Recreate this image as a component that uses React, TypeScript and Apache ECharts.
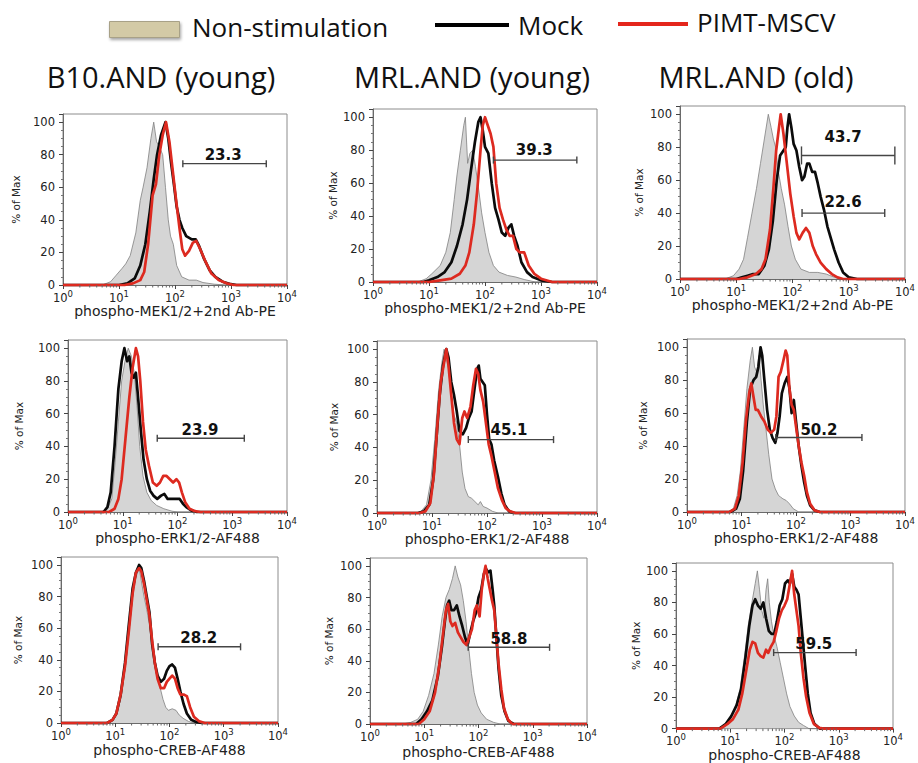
import React, { useEffect, useRef } from "react";
import * as echarts from "echarts";

// ---------- text ----------
const columnTitles = ["B10.AND (young)", "MRL.AND (young)", "MRL.AND (old)"];
const rowMarkers = ["phospho-MEK1/2+2nd Ab-PE", "phospho-ERK1/2-AF488", "phospho-CREB-AF488"];
const legendNames = ["Non-stimulation", "Mock", "PIMT-MSCV"];
const yAxisName = "% of Max";

// ---------- data: [log10 fluorescence, % of max] ----------
const mekB10Non = [[0,0],[0.7,0],[0.85,2],[0.95,6],[1.05,10],[1.12,13],[1.2,18],[1.3,32],[1.38,52],[1.43,60],[1.5,72],[1.57,90],[1.62,100],[1.67,88],[1.72,85],[1.78,80],[1.83,60],[1.88,40],[1.92,30],[1.97,25],[2.03,12],[2.12,5],[2.25,3],[2.38,3],[2.5,1.5],[2.7,0.5],[2.9,0],[4,0]];
const mekB10Mock = [[0,0],[1.0,0],[1.15,1],[1.28,4],[1.38,12],[1.47,25],[1.55,45],[1.62,65],[1.68,80],[1.75,92],[1.83,100],[1.88,90],[1.93,75],[1.98,62],[2.03,48],[2.08,40],[2.13,35],[2.2,30],[2.3,28],[2.37,28],[2.43,24],[2.52,16],[2.62,9],[2.72,5],[2.85,2],[3.0,0.5],[3.1,0],[4,0]];
const mekB10Pimt = [[0,0],[1.1,0],[1.25,1],[1.38,3],[1.45,8],[1.52,25],[1.6,55],[1.66,62],[1.72,80],[1.78,92],[1.84,100],[1.9,88],[1.96,70],[2.02,52],[2.08,35],[2.13,22],[2.18,18],[2.25,21],[2.32,26],[2.38,27],[2.45,22],[2.55,14],[2.65,7],[2.78,3],[2.92,1],[3.05,0],[4,0]];

const mekMrlYNon = [[0,0],[0.8,0],[0.95,2],[1.05,5],[1.2,10],[1.3,18],[1.38,30],[1.45,50],[1.5,65],[1.56,80],[1.62,95],[1.65,100],[1.69,72],[1.73,78],[1.78,80],[1.83,70],[1.88,58],[1.94,42],[2.0,30],[2.07,18],[2.15,10],[2.25,6],[2.4,4],[2.55,3],[2.7,1.5],[2.9,0],[4,0]];
const mekMrlYMock = [[0,0],[0.9,0],[1.0,1],[1.15,3],[1.28,6],[1.4,12],[1.5,22],[1.6,35],[1.68,50],[1.75,68],[1.82,85],[1.88,97],[1.92,100],[1.96,92],[2.0,82],[2.06,78],[2.12,60],[2.18,45],[2.24,38],[2.3,30],[2.36,28],[2.42,33],[2.47,35],[2.52,28],[2.58,22],[2.65,12],[2.75,6],[2.85,3],[3.0,1],[3.2,0],[4,0]];
const mekMrlYPimt = [[0,0],[1.0,0],[1.2,1],[1.4,2],[1.55,5],[1.65,10],[1.72,18],[1.8,35],[1.86,55],[1.92,80],[1.96,95],[2.0,100],[2.05,95],[2.1,90],[2.15,82],[2.2,60],[2.26,45],[2.32,38],[2.38,32],[2.44,28],[2.5,28],[2.56,20],[2.62,18],[2.7,18],[2.78,10],[2.88,5],[3.0,2],[3.2,0],[4,0]];

const mekMrlONon = [[0,0],[0.8,0],[0.95,2],[1.05,6],[1.13,12],[1.2,25],[1.28,40],[1.36,55],[1.43,70],[1.5,85],[1.57,100],[1.62,92],[1.66,85],[1.7,80],[1.75,65],[1.8,55],[1.86,45],[1.92,32],[1.98,20],[2.05,12],[2.15,6],[2.3,4],[2.45,4],[2.6,3],[2.75,1],[2.9,0],[4,0]];
const mekMrlOMock = [[0,0],[1.0,0],[1.1,1],[1.2,2],[1.3,3],[1.4,3],[1.5,8],[1.58,18],[1.65,35],[1.72,60],[1.78,75],[1.84,78],[1.88,80],[1.91,92],[1.94,100],[1.98,92],[2.02,82],[2.07,78],[2.12,68],[2.17,60],[2.21,62],[2.26,70],[2.3,70],[2.35,65],[2.4,65],[2.45,58],[2.5,50],[2.56,42],[2.62,32],[2.68,25],[2.74,18],[2.82,10],[2.9,4],[3.0,1],[3.15,0],[4,0]];
const mekMrlOPimt = [[0,0],[1.05,0],[1.2,1],[1.35,3],[1.45,6],[1.52,12],[1.6,30],[1.66,55],[1.71,78],[1.76,92],[1.79,100],[1.84,88],[1.9,70],[1.96,52],[2.02,38],[2.07,28],[2.12,24],[2.18,28],[2.24,31],[2.3,28],[2.36,20],[2.42,15],[2.5,10],[2.6,6],[2.7,3],[2.8,1],[2.9,0],[4,0]];

const erkB10Non = [[0,0],[0.6,0],[0.72,2],[0.8,8],[0.86,30],[0.92,55],[0.98,80],[1.04,92],[1.1,100],[1.16,95],[1.21,85],[1.26,65],[1.31,40],[1.37,22],[1.44,12],[1.52,7],[1.62,4],[1.75,2],[1.9,0.5],[2.0,0],[4,0]];
const erkB10Mock = [[0,0],[0.65,0],[0.72,3],[0.78,12],[0.85,40],[0.92,75],[0.98,92],[1.03,100],[1.08,92],[1.12,95],[1.16,85],[1.2,82],[1.24,85],[1.28,70],[1.33,50],[1.38,32],[1.44,20],[1.5,13],[1.56,10],[1.63,8],[1.7,10],[1.76,11],[1.82,8],[1.9,8],[1.98,8],[2.04,8],[2.1,5],[2.16,3],[2.25,1],[2.35,0],[4,0]];
const erkB10Pimt = [[0,0],[0.75,0],[0.85,2],[0.92,8],[0.98,20],[1.05,45],[1.12,70],[1.18,88],[1.24,100],[1.28,95],[1.32,80],[1.37,55],[1.42,38],[1.48,28],[1.55,18],[1.62,16],[1.68,18],[1.74,22],[1.8,22],[1.86,20],[1.92,18],[1.98,20],[2.03,18],[2.08,12],[2.14,6],[2.22,2],[2.32,0.5],[2.42,0],[4,0]];

const erkMrlYNon = [[0,0],[0.7,0],[0.8,1],[0.9,5],[0.98,20],[1.05,45],[1.12,75],[1.18,92],[1.22,100],[1.26,95],[1.3,88],[1.35,72],[1.4,60],[1.45,55],[1.5,42],[1.55,25],[1.6,15],[1.66,10],[1.72,9],[1.78,7],[1.84,5],[1.88,7],[1.93,4],[2.0,3],[2.1,1],[2.2,0],[4,0]];
const erkMrlYMock = [[0,0],[0.75,0],[0.85,1],[0.95,5],[1.02,20],[1.08,45],[1.14,72],[1.2,90],[1.26,100],[1.3,95],[1.35,80],[1.4,72],[1.45,62],[1.5,50],[1.56,48],[1.62,52],[1.67,58],[1.72,62],[1.77,75],[1.82,88],[1.85,90],[1.88,82],[1.92,80],[1.96,78],[2.0,60],[2.04,45],[2.08,42],[2.13,32],[2.2,22],[2.26,12],[2.32,5],[2.4,1],[2.5,0],[4,0]];
const erkMrlYPimt = [[0,0],[0.78,0],[0.88,1],[0.97,6],[1.04,25],[1.1,55],[1.16,80],[1.22,92],[1.26,100],[1.3,90],[1.35,72],[1.4,55],[1.45,45],[1.5,42],[1.55,58],[1.59,62],[1.64,58],[1.7,65],[1.75,78],[1.8,88],[1.84,85],[1.88,75],[1.93,68],[1.98,55],[2.03,42],[2.08,35],[2.14,25],[2.2,15],[2.27,8],[2.34,3],[2.42,1],[2.52,0],[4,0]];

const erkMrlONon = [[0,0],[0.75,0],[0.85,2],[0.92,10],[0.98,25],[1.04,50],[1.1,75],[1.16,92],[1.2,100],[1.24,88],[1.28,85],[1.32,95],[1.36,80],[1.4,65],[1.45,50],[1.5,35],[1.56,20],[1.62,14],[1.68,10],[1.72,9],[1.76,8],[1.82,7],[1.88,5],[1.95,2],[2.05,0],[4,0]];
const erkMrlOMock = [[0,0],[0.8,0],[0.9,2],[0.97,8],[1.03,25],[1.1,55],[1.16,75],[1.22,80],[1.27,82],[1.31,88],[1.35,100],[1.38,95],[1.42,80],[1.47,62],[1.52,50],[1.57,45],[1.62,42],[1.66,48],[1.7,58],[1.74,72],[1.79,78],[1.84,82],[1.88,75],[1.92,60],[1.96,68],[2.0,55],[2.05,40],[2.1,28],[2.15,18],[2.2,10],[2.26,4],[2.34,1],[2.44,0],[4,0]];
const erkMrlOPimt = [[0,0],[0.78,0],[0.88,2],[0.95,10],[1.02,30],[1.08,55],[1.14,72],[1.18,78],[1.22,70],[1.26,62],[1.3,62],[1.36,58],[1.42,55],[1.48,50],[1.54,48],[1.6,50],[1.64,58],[1.68,82],[1.72,85],[1.77,92],[1.81,98],[1.84,95],[1.88,75],[1.92,65],[1.96,62],[2.0,52],[2.05,40],[2.1,30],[2.15,22],[2.2,12],[2.26,5],[2.34,1],[2.44,0],[4,0]];

const crebB10Non = [[0,0],[0.85,0],[0.95,2],[1.02,5],[1.1,15],[1.18,35],[1.25,58],[1.32,80],[1.38,92],[1.44,98],[1.48,90],[1.53,80],[1.58,72],[1.63,62],[1.68,50],[1.73,42],[1.78,28],[1.83,22],[1.88,15],[1.93,10],[1.98,8],[2.05,9],[2.12,8],[2.18,5],[2.25,3],[2.35,1],[2.45,0],[4,0]];
const crebB10Mock = [[0,0],[0.85,0],[0.95,2],[1.02,6],[1.1,18],[1.18,38],[1.25,62],[1.32,85],[1.38,95],[1.44,100],[1.48,98],[1.53,90],[1.58,80],[1.63,70],[1.68,50],[1.73,38],[1.78,30],[1.84,26],[1.9,28],[1.95,33],[2.0,36],[2.05,37],[2.1,35],[2.15,28],[2.2,20],[2.26,12],[2.32,6],[2.4,2],[2.5,0.5],[2.6,0],[4,0]];
const crebB10Pimt = [[0,0],[0.85,0],[0.95,2],[1.02,6],[1.1,18],[1.18,36],[1.25,58],[1.32,82],[1.38,95],[1.44,98],[1.48,96],[1.53,88],[1.58,78],[1.63,68],[1.68,52],[1.73,38],[1.78,28],[1.84,22],[1.9,22],[1.95,26],[2.0,28],[2.05,30],[2.1,28],[2.15,22],[2.2,18],[2.26,18],[2.32,17],[2.38,10],[2.45,4],[2.55,1],[2.65,0],[4,0]];

const crebMrlYNon = [[0,0],[0.6,0],[0.75,1],[0.88,3],[0.98,8],[1.08,18],[1.18,32],[1.26,50],[1.33,68],[1.4,80],[1.46,85],[1.52,92],[1.57,100],[1.62,93],[1.67,88],[1.72,78],[1.77,65],[1.82,48],[1.87,32],[1.92,20],[1.98,12],[2.05,7],[2.15,3],[2.28,1],[2.4,0],[4,0]];
const crebMrlYMock = [[0,0],[0.85,0],[0.95,3],[1.05,8],[1.15,15],[1.25,30],[1.33,50],[1.38,65],[1.42,75],[1.46,78],[1.5,72],[1.55,72],[1.6,75],[1.65,68],[1.7,62],[1.75,55],[1.8,50],[1.85,58],[1.9,65],[1.95,70],[2.0,80],[2.05,85],[2.1,95],[2.14,98],[2.18,96],[2.22,97],[2.26,85],[2.29,75],[2.33,55],[2.37,35],[2.42,18],[2.48,8],[2.55,2],[2.65,0],[4,0]];
const crebMrlYPimt = [[0,0],[0.9,0],[1.0,3],[1.1,8],[1.2,20],[1.28,38],[1.35,58],[1.4,72],[1.44,76],[1.48,65],[1.52,62],[1.57,64],[1.62,58],[1.67,55],[1.72,52],[1.78,50],[1.83,55],[1.88,60],[1.93,72],[1.97,75],[2.02,68],[2.06,85],[2.1,95],[2.13,100],[2.17,92],[2.21,85],[2.25,78],[2.29,72],[2.33,55],[2.37,38],[2.42,22],[2.47,10],[2.54,3],[2.62,0],[4,0]];

const crebMrlONon = [[0,0],[0.75,0],[0.88,2],[0.98,5],[1.08,12],[1.18,25],[1.26,45],[1.33,65],[1.4,80],[1.46,92],[1.5,100],[1.54,88],[1.58,75],[1.62,70],[1.66,88],[1.69,95],[1.72,80],[1.76,68],[1.8,60],[1.86,52],[1.92,42],[1.98,32],[2.04,22],[2.1,14],[2.18,8],[2.26,4],[2.35,2],[2.45,0],[4,0]];
const crebMrlOMock = [[0,0],[0.8,0],[0.92,3],[1.02,8],[1.12,15],[1.2,25],[1.28,45],[1.35,65],[1.41,78],[1.46,82],[1.51,78],[1.56,76],[1.61,80],[1.66,70],[1.71,62],[1.76,60],[1.81,60],[1.86,68],[1.91,78],[1.96,82],[2.01,92],[2.06,94],[2.1,92],[2.14,98],[2.18,90],[2.22,88],[2.26,85],[2.3,70],[2.34,55],[2.38,40],[2.43,22],[2.48,10],[2.55,3],[2.65,0],[4,0]];
const crebMrlOPimt = [[0,0],[0.82,0],[0.95,3],[1.05,6],[1.15,12],[1.22,22],[1.3,38],[1.36,50],[1.41,55],[1.46,54],[1.51,48],[1.56,46],[1.61,45],[1.66,50],[1.7,48],[1.75,52],[1.8,55],[1.85,62],[1.9,70],[1.95,75],[2.0,78],[2.05,82],[2.1,92],[2.14,100],[2.18,85],[2.22,75],[2.26,65],[2.3,48],[2.35,32],[2.4,20],[2.46,10],[2.54,3],[2.64,0.5],[2.72,0],[4,0]];

// gates: from/to (log10), y (%), label and label centre (log10, %)
const mekB10Gates = [{ from: 2.14, to: 3.63, y: 74.5, label: "23.3", lx: 2.86, ly: 80 }];
const mekMrlYGates = [{ from: 2.15, to: 3.64, y: 74, label: "39.3", lx: 2.88, ly: 80 }];
const mekMrlOGates = [
  { from: 2.16, to: 3.82, y: 75, label: "43.7", lx: 2.9, ly: 86 },
  { from: 2.17, to: 3.64, y: 40, label: "22.6", lx: 2.9, ly: 47 },
];
const erkB10Gates = [{ from: 1.63, to: 3.22, y: 45, label: "23.9", lx: 2.41, ly: 50 }];
const erkMrlYGates = [{ from: 1.66, to: 3.21, y: 44.8, label: "45.1", lx: 2.4, ly: 50.5 }];
const erkMrlOGates = [{ from: 1.63, to: 3.21, y: 45.2, label: "50.2", lx: 2.42, ly: 50 }];
const crebB10Gates = [{ from: 1.79, to: 3.31, y: 48.2, label: "28.2", lx: 2.54, ly: 53.5 }];
const crebMrlYGates = [{ from: 1.81, to: 3.31, y: 48.5, label: "58.8", lx: 2.56, ly: 53.6 }];
const crebMrlOGates = [{ from: 1.8, to: 3.32, y: 48.2, label: "59.5", lx: 2.54, ly: 53.5 }];

const panelData = [
  { non: mekB10Non, mock: mekB10Mock, pimt: mekB10Pimt, gates: mekB10Gates, row: 0 },
  { non: mekMrlYNon, mock: mekMrlYMock, pimt: mekMrlYPimt, gates: mekMrlYGates, row: 0 },
  { non: mekMrlONon, mock: mekMrlOMock, pimt: mekMrlOPimt, gates: mekMrlOGates, row: 0 },
  { non: erkB10Non, mock: erkB10Mock, pimt: erkB10Pimt, gates: erkB10Gates, row: 1 },
  { non: erkMrlYNon, mock: erkMrlYMock, pimt: erkMrlYPimt, gates: erkMrlYGates, row: 1 },
  { non: erkMrlONon, mock: erkMrlOMock, pimt: erkMrlOPimt, gates: erkMrlOGates, row: 1 },
  { non: crebB10Non, mock: crebB10Mock, pimt: crebB10Pimt, gates: crebB10Gates, row: 2 },
  { non: crebMrlYNon, mock: crebMrlYMock, pimt: crebMrlYPimt, gates: crebMrlYGates, row: 2 },
  { non: crebMrlONon, mock: crebMrlOMock, pimt: crebMrlOPimt, gates: crebMrlOGates, row: 2 },
];

// ---------- layout / style ----------
const layout = [
  { left: 63, top: 114, width: 224, height: 171, yGap: 42, xGap: 15, caps: [3.5] },
  { left: 373, top: 109, width: 224, height: 173, yGap: 35, xGap: 19, caps: [3.5] },
  { left: 680, top: 106, width: 225, height: 173, yGap: 36, xGap: 19, caps: [9, 4] },
  { left: 68, top: 340, width: 219, height: 172, yGap: 44, xGap: 16, caps: [3.5] },
  { left: 377, top: 341, width: 220, height: 172, yGap: 38, xGap: 15, caps: [3.5] },
  { left: 687, top: 339, width: 218, height: 173, yGap: 39, xGap: 13, caps: [3.5] },
  { left: 61, top: 557, width: 217, height: 166, yGap: 38, xGap: 20, caps: [3.5] },
  { left: 370, top: 558, width: 217, height: 166, yGap: 36, xGap: 21, caps: [3.5] },
  { left: 676, top: 563, width: 217, height: 166, yGap: 35, xGap: 17, caps: [3.5] },
];

const FONT = "'DejaVu Sans', Verdana, sans-serif";
const TITLE_FONT = "'Open Sans', 'Noto Sans', sans-serif";
const GRAY_FILL = "#d5d5d5";
const GRAY_LINE = "#808080";
const MOCK_COLOR = "#0b0b0b";
const PIMT_COLOR = "#dd2a20";
const SWATCH_COLOR = "#d3caa6";

const minorTickValues: number[] = [];
[1, 10, 100, 1000].forEach((d) => {
  for (let k = 2; k <= 9; k++) minorTickValues.push(k * d);
});

const toXY = (pts: number[][]) => pts.map(([d, v]) => [Math.pow(10, d), v]);

function buildOption() {
  const grids: any[] = [];
  const xAxes: any[] = [];
  const yAxes: any[] = [];
  const series: any[] = [];

  panelData.forEach((p, i) => {
    const L = layout[i];
    grids.push({
      left: L.left, top: L.top, width: L.width, height: L.height,
      show: true, borderColor: "#8c8c8c", borderWidth: 1, backgroundColor: "transparent",
    });
    xAxes.push({
      type: "log", logBase: 10, gridIndex: i, min: 1, max: 10000,
      name: rowMarkers[p.row], nameLocation: "middle", nameGap: L.xGap,
      nameTextStyle: { fontFamily: FONT, fontSize: 14, color: "#222", verticalAlign: "top" },
      axisLine: { show: true, lineStyle: { color: "#6a6a6a", width: 1 } },
      axisTick: { show: true, length: 4, lineStyle: { color: "#444" } },
      splitLine: { show: false },
      axisLabel: {
        margin: 4, color: "#222",
        formatter: (v: number) => `{b|10}{s|${Math.round(Math.log10(v))}}`,
        rich: {
          b: { fontFamily: FONT, fontSize: 11.5, color: "#222" },
          s: { fontFamily: FONT, fontSize: 8.5, color: "#222", padding: [0, 0, 8, 0] },
        },
      },
    });
    yAxes.push({
      type: "value", gridIndex: i, min: 0, max: 105, interval: 20,
      name: yAxisName, nameLocation: "middle", nameGap: L.yGap, nameRotate: 90,
      nameTextStyle: { fontFamily: FONT, fontSize: 10.5, color: "#222" },
      axisLine: { show: true, lineStyle: { color: "#6a6a6a", width: 1 } },
      axisTick: { show: true, length: 4, lineStyle: { color: "#444" } },
      minorTick: { show: true, splitNumber: 4, length: 2, lineStyle: { color: "#777" } },
      splitLine: { show: false },
      axisLabel: {
        fontFamily: FONT, fontSize: 11.5, color: "#222", margin: 8,
        formatter: (v: number) => (v % 20 === 0 && v <= 100 ? String(v) : ""),
      },
    });

    const common = { xAxisIndex: i, yAxisIndex: i, showSymbol: false, symbol: "none", clip: false, silent: true };
    series.push({
      ...common, type: "line", name: legendNames[0], data: toXY(p.non), z: 2,
      lineStyle: { color: GRAY_LINE, width: 0.8 },
      areaStyle: { color: GRAY_FILL, opacity: 1 },
    });
    series.push({
      ...common, type: "line", name: legendNames[1], data: toXY(p.mock), z: 3,
      lineStyle: { color: MOCK_COLOR, width: 2.7, join: "round" },
    });
    series.push({
      ...common, type: "line", name: legendNames[2], data: toXY(p.pimt), z: 4,
      lineStyle: { color: PIMT_COLOR, width: 2.7, join: "round" },
    });

    // minor log ticks on the x axis
    series.push({
      type: "custom", xAxisIndex: i, yAxisIndex: i, silent: true, z: 5,
      data: minorTickValues.map((v) => [v, 0]),
      encode: { x: 0, y: 1 },
      renderItem: (_params: any, api: any) => {
        const pt = api.coord([api.value(0), 0]);
        return {
          type: "line",
          shape: { x1: pt[0], y1: pt[1], x2: pt[0], y2: pt[1] + 2.5 },
          style: { stroke: "#666", lineWidth: 1 },
        };
      },
    });

    // gate bars with percentages
    const gates = p.gates;
    series.push({
      type: "custom", xAxisIndex: i, yAxisIndex: i, silent: true, z: 6,
      data: gates.map((g) => [Math.pow(10, g.from), Math.pow(10, g.to), g.y, Math.pow(10, g.lx), g.ly]),
      encode: { x: [0, 1, 3], y: [2, 4] },
      renderItem: (params: any, api: any) => {
        const g = gates[params.dataIndex];
        const h = L.caps[params.dataIndex] ?? 3.5;
        const a = api.coord([api.value(0), api.value(2)]);
        const b = api.coord([api.value(1), api.value(2)]);
        const t = api.coord([api.value(3), api.value(4)]);
        const st = { stroke: "#454545", lineWidth: 1.4 };
        return {
          type: "group",
          children: [
            { type: "line", shape: { x1: a[0], y1: a[1], x2: b[0], y2: b[1] }, style: st },
            { type: "line", shape: { x1: a[0], y1: a[1] - h, x2: a[0], y2: a[1] + h }, style: st },
            { type: "line", shape: { x1: b[0], y1: b[1] - h, x2: b[0], y2: b[1] + h }, style: st },
            {
              type: "text", x: t[0], y: t[1],
              style: {
                text: g.label, fill: "#111", font: `bold 15px ${FONT}`,
                align: "center", verticalAlign: "middle",
              },
            },
          ],
        };
      },
    });
  });

  const titleCenters = [161, 472, 756];
  const graphic: any[] = [
    // legend
    {
      type: "rect", left: 109, top: 21, shape: { width: 70, height: 16 },
      style: { fill: SWATCH_COLOR, stroke: "#a8a187", lineWidth: 1, shadowBlur: 3, shadowOffsetX: 1, shadowOffsetY: 2, shadowColor: "rgba(0,0,0,0.35)" },
    },
    { type: "text", x: 192, y: 27, style: { text: legendNames[0], font: `26px ${TITLE_FONT}`, fill: "#111", align: "left", verticalAlign: "middle" } },
    { type: "line", shape: { x1: 435, y1: 25, x2: 509, y2: 25 }, style: { stroke: "#000", lineWidth: 4 } },
    { type: "text", x: 518, y: 25, style: { text: legendNames[1], font: `26px ${TITLE_FONT}`, fill: "#111", align: "left", verticalAlign: "middle" } },
    { type: "line", shape: { x1: 618, y1: 24, x2: 688, y2: 24 }, style: { stroke: "#e4261c", lineWidth: 4 } },
    { type: "text", x: 697, y: 22, style: { text: legendNames[2], font: `26px ${TITLE_FONT}`, fill: "#111", align: "left", verticalAlign: "middle" } },
    ...columnTitles.map((t, k) => ({
      type: "text", x: titleCenters[k], y: 76,
      style: { text: t, font: `29px ${TITLE_FONT}`, fill: "#111", align: "center", verticalAlign: "middle" },
    })),
  ];

  return {
    animation: false,
    backgroundColor: "#ffffff",
    grid: grids,
    xAxis: xAxes,
    yAxis: yAxes,
    series,
    graphic,
  };
}

export default function App() {
  const ref = useRef<HTMLDivElement>(null);
  useEffect(() => {
    if (!ref.current) return;
    const chart = echarts.init(ref.current, null, { renderer: "svg" });
    chart.setOption(buildOption());
    return () => chart.dispose();
  }, []);
  return (
    <div
      ref={ref}
      style={{ position: "absolute", left: 0, top: 0, width: 918, height: 763, background: "#fff" }}
    />
  );
}
